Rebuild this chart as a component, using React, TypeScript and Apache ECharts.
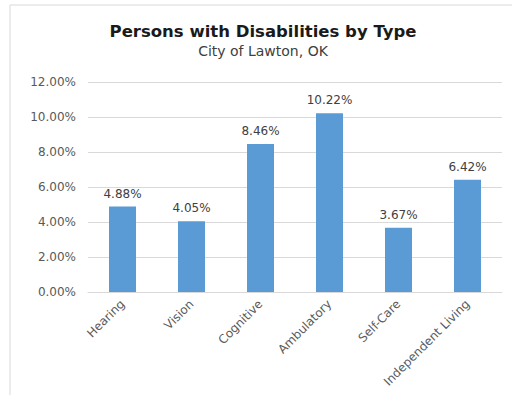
import React, { useEffect, useRef } from "react";
import * as echarts from "echarts";

const categories = ["Hearing", "Vision", "Cognitive", "Ambulatory", "Self-Care", "Independent Living"];
const values = [4.88, 4.05, 8.46, 10.22, 3.67, 6.42];
const titleText = "Persons with Disabilities by Type";
const subtitleText = "City of Lawton, OK";

export default function App() {
  const ref = useRef<HTMLDivElement>(null);
  useEffect(() => {
    document.body.style.margin = "0";
    const chart = echarts.init(ref.current!, null, { renderer: "svg" });
    chart.setOption({
      animation: false,
      backgroundColor: "#ffffff",
      title: {
        text: titleText,
        subtext: subtitleText,
        left: 258,
        textAlign: "center",
        top: 18,
        itemGap: 4,
        textStyle: { fontFamily: "DejaVu Sans", fontWeight: "bold", fontSize: 16.5, color: "#1a1a1a" },
        subtextStyle: { fontFamily: "DejaVu Sans", fontSize: 14, color: "#404040" },
      },
      graphic: [
        {
          type: "rect",
          shape: { x: 10, y: 5, width: 520, height: 420 },
          style: { fill: "none", stroke: "#d9d9d9", lineWidth: 1 },
          silent: true,
        },
      ],
      grid: { left: 88, right: 10, top: 82, bottom: 103 },
      xAxis: {
        type: "category",
        data: categories,
        axisTick: { show: false },
        axisLine: { lineStyle: { color: "#d9d9d9" } },
        axisLabel: {
          rotate: 45,
          interval: 0,
          margin: 10,
          fontFamily: "DejaVu Sans",
          fontSize: 12,
          color: "#595959",
        },
      },
      yAxis: {
        type: "value",
        min: 0,
        max: 12,
        interval: 2,
        axisLine: { show: false },
        axisTick: { show: false },
        splitLine: { lineStyle: { color: "#d9d9d9" } },
        axisLabel: {
          margin: 12,
          fontFamily: "DejaVu Sans",
          fontSize: 12,
          color: "#595959",
          formatter: (v: number) => v.toFixed(2) + "%",
        },
      },
      series: [
        {
          type: "bar",
          data: values,
          barWidth: 27,
          itemStyle: { color: "#5b9bd5" },
          label: {
            show: true,
            position: "top",
            distance: 7,
            fontFamily: "DejaVu Sans",
            fontSize: 12,
            color: "#404040",
            formatter: (p: any) => p.value.toFixed(2) + "%",
          },
        },
      ],
    });
    return () => chart.dispose();
  }, []);
  return <div ref={ref} style={{ width: 512, height: 395 }} />;
}
